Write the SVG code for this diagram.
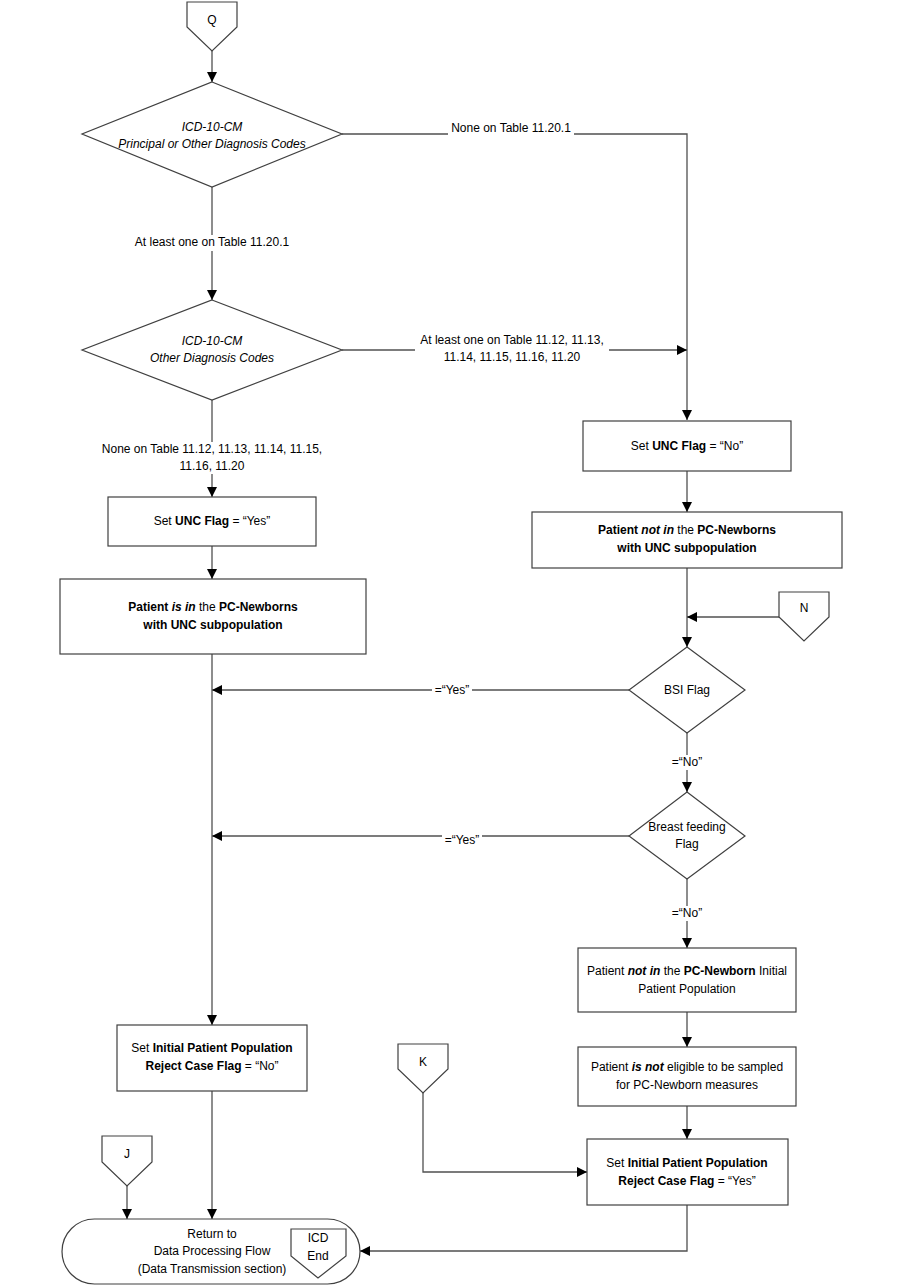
<svg xmlns="http://www.w3.org/2000/svg" width="900" height="1286" viewBox="0 0 900 1286">
<defs>
<marker id="arr" viewBox="0 0 10 10" refX="10" refY="5" markerWidth="10" markerHeight="10" markerUnits="userSpaceOnUse" orient="auto">
<path d="M0,0 L10,5 L0,10 Z" fill="#000"/>
</marker>
</defs>
<style>
text{font-family:"Liberation Sans",Arial,sans-serif;font-size:12px;fill:#000;text-anchor:middle}
.shape{fill:#fff;stroke:#404040;stroke-width:1.2}
.ln{fill:none;stroke:#505050;stroke-width:1.3}
.bg{fill:#fff;stroke:none}
.b{font-weight:bold}
.i{font-style:italic}
</style>
<g id="connectors">
<path class="ln" d="M212,51 V82" marker-end="url(#arr)"/>
<path class="ln" d="M342,134 H687 V420" marker-end="url(#arr)"/>
<path class="ln" d="M212,187 V300" marker-end="url(#arr)"/>
<path class="ln" d="M342,350 H687" marker-end="url(#arr)"/>
<path class="ln" d="M212,400 V497" marker-end="url(#arr)"/>
<path class="ln" d="M212,546 V579" marker-end="url(#arr)"/>
<path class="ln" d="M687,471 V512" marker-end="url(#arr)"/>
<path class="ln" d="M687,568 V647" marker-end="url(#arr)"/>
<path class="ln" d="M779,617 H687" marker-end="url(#arr)"/>
<path class="ln" d="M629,690 H212" marker-end="url(#arr)"/>
<path class="ln" d="M687,733 V792" marker-end="url(#arr)"/>
<path class="ln" d="M629,836 H212" marker-end="url(#arr)"/>
<path class="ln" d="M687,879 V948" marker-end="url(#arr)"/>
<path class="ln" d="M687,1012 V1047" marker-end="url(#arr)"/>
<path class="ln" d="M687,1106 V1139" marker-end="url(#arr)"/>
<path class="ln" d="M423,1093 V1172 H587" marker-end="url(#arr)"/>
<path class="ln" d="M212,654 V1025" marker-end="url(#arr)"/>
<path class="ln" d="M212,1091 V1219" marker-end="url(#arr)"/>
<path class="ln" d="M127,1186 V1219" marker-end="url(#arr)"/>
<path class="ln" d="M687,1205 V1251 H360" marker-end="url(#arr)"/>
<rect class="bg" x="448" y="121" width="126" height="16"/>
<rect class="bg" x="131" y="235" width="162" height="16"/>
<rect class="bg" x="415" y="333" width="194" height="32"/>
<rect class="bg" x="95" y="442" width="234" height="32"/>
<rect class="bg" x="432" y="683" width="40" height="15"/>
<rect class="bg" x="669" y="755" width="36" height="15"/>
<rect class="bg" x="442" y="829" width="40" height="16"/>
<rect class="bg" x="669" y="906" width="36" height="15"/>
<text x="511" y="132">None on Table 11.20.1</text>
<text x="212" y="246">At least one on Table 11.20.1</text>
<text x="512" y="344">At least one on Table 11.12, 11.13,</text>
<text x="512" y="361">11.14, 11.15, 11.16, 11.20</text>
<text x="212" y="453">None on Table 11.12, 11.13, 11.14, 11.15,</text>
<text x="212" y="470">11.16, 11.20</text>
<text x="452" y="694">=“Yes”</text>
<text x="687" y="766">=“No”</text>
<text x="462" y="844">=“Yes”</text>
<text x="687" y="917">=“No”</text>
</g>
<g id="Q">
<path class="shape" d="M187,2 H237 V27 L212,51 L187,27 Z"/>
<text x="212" y="24">Q</text>
</g>
<g id="d1">
<path class="shape" d="M212,82 L342,134 L212,187 L82,134 Z"/>
<text class="i" x="212" y="131">ICD-10-CM</text>
<text class="i" x="212" y="148">Principal or Other Diagnosis Codes</text>
</g>
<g id="d2">
<path class="shape" d="M212,300 L342,350 L212,400 L82,350 Z"/>
<text class="i" x="212" y="345">ICD-10-CM</text>
<text class="i" x="212" y="362">Other Diagnosis Codes</text>
</g>
<g id="uncYes">
<rect class="shape" x="108" y="497" width="208" height="49"/>
<text x="212" y="525">Set <tspan class="b">UNC Flag</tspan> = “Yes”</text>
</g>
<g id="isIn">
<rect class="shape" x="60" y="579" width="306" height="75"/>
<text x="213" y="611"><tspan class="b">Patient </tspan><tspan class="b i">is in</tspan> the <tspan class="b">PC-Newborns</tspan></text>
<text class="b" x="213" y="629">with UNC subpopulation</text>
</g>
<g id="uncNo">
<rect class="shape" x="583" y="421" width="208" height="50"/>
<text x="687" y="450">Set <tspan class="b">UNC Flag</tspan> = “No”</text>
</g>
<g id="notIn">
<rect class="shape" x="532" y="512" width="310" height="56"/>
<text x="687" y="534"><tspan class="b">Patient </tspan><tspan class="b i">not in</tspan> the <tspan class="b">PC-Newborns</tspan></text>
<text class="b" x="687" y="552">with UNC subpopulation</text>
</g>
<g id="N">
<path class="shape" d="M779,592 H829 V617 L804,641 L779,617 Z"/>
<text x="804" y="612">N</text>
</g>
<g id="bsi">
<path class="shape" d="M687,647 L745,690 L687,733 L629,690 Z"/>
<text x="687" y="694">BSI Flag</text>
</g>
<g id="bf">
<path class="shape" d="M687,792 L745,836 L687,879 L629,836 Z"/>
<text x="687" y="831">Breast feeding</text>
<text x="687" y="848">Flag</text>
</g>
<g id="notInIPP">
<rect class="shape" x="578" y="948" width="218" height="64"/>
<text x="687" y="975">Patient <tspan class="b i">not in</tspan> the <tspan class="b">PC-Newborn</tspan> Initial</text>
<text x="687" y="993">Patient Population</text>
</g>
<g id="notEligible">
<rect class="shape" x="578" y="1047" width="218" height="59"/>
<text x="687" y="1071">Patient <tspan class="b i">is not</tspan> eligible to be sampled</text>
<text x="687" y="1089">for PC-Newborn measures</text>
</g>
<g id="rejectYes">
<rect class="shape" x="587" y="1139" width="201" height="66"/>
<text x="687" y="1167">Set <tspan class="b">Initial Patient Population</tspan></text>
<text x="687" y="1185"><tspan class="b">Reject Case Flag</tspan> = “Yes”</text>
</g>
<g id="rejectNo">
<rect class="shape" x="117" y="1025" width="190" height="66"/>
<text x="212" y="1052">Set <tspan class="b">Initial Patient Population</tspan></text>
<text x="212" y="1070"><tspan class="b">Reject Case Flag</tspan> = “No”</text>
</g>
<g id="K">
<path class="shape" d="M398,1044 H448 V1069 L423,1093 L398,1069 Z"/>
<text x="423" y="1066">K</text>
</g>
<g id="J">
<path class="shape" d="M102,1136 H152 V1162 L127,1186 L102,1162 Z"/>
<text x="127" y="1158">J</text>
</g>
<g id="terminator">
<rect class="shape" x="62" y="1219" width="298" height="65" rx="32.5" ry="32.5"/>
<text x="212" y="1238">Return to</text>
<text x="212" y="1255">Data Processing Flow</text>
<text x="212" y="1273">(Data Transmission section)</text>
</g>
<g id="ICDEnd">
<path class="shape" d="M291,1229 H346 V1256 L318,1278 L291,1256 Z"/>
<text x="318" y="1242">ICD</text>
<text x="318" y="1260">End</text>
</g>
</svg>
